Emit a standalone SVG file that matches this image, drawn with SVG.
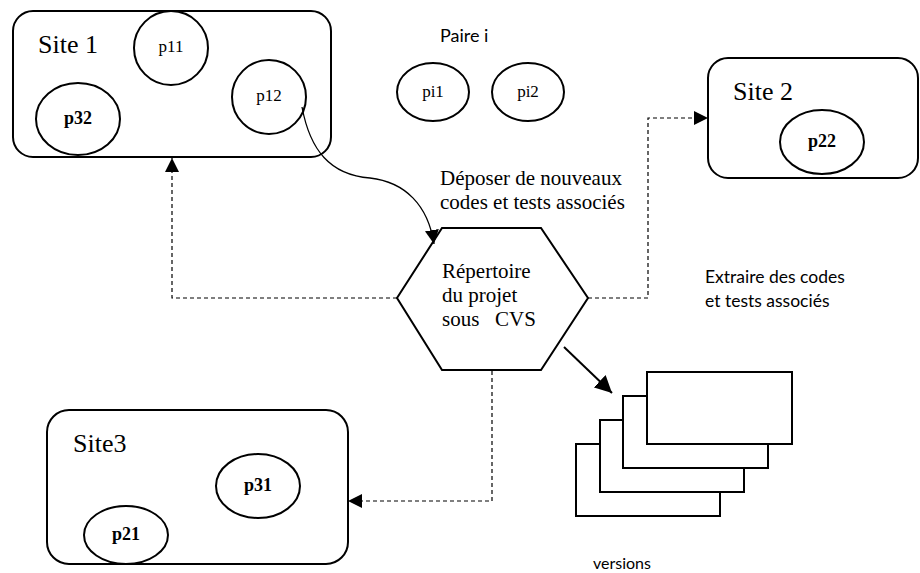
<svg xmlns="http://www.w3.org/2000/svg" width="920" height="573" viewBox="0 0 920 573">
<defs>
<style>
.box{fill:none;stroke:#000;stroke-width:2}
.el{fill:#fff;stroke:#000;stroke-width:2}
.serif{font-family:"Liberation Serif","Times New Roman",serif;fill:#000}
.sans{font-family:"Lato","Open Sans",sans-serif;fill:#000}
.site{font-size:26px}
.p{font-size:17px;text-anchor:middle}
.pb{font-size:18px;font-weight:bold;text-anchor:middle}
.lbl{font-size:21px;white-space:pre}
.dash{fill:none;stroke:#000;stroke-width:1.2;stroke-dasharray:4,3}
.solid{fill:none;stroke:#000;stroke-width:1.3}
.ver{fill:#fff;stroke:#000;stroke-width:2}
</style>
<marker id="ahs" viewBox="0 0 10 10" refX="10" refY="5" markerWidth="14" markerHeight="14" markerUnits="userSpaceOnUse" orient="auto"><path d="M0,0 L10,5 L0,10 z" fill="#000"/></marker>
<marker id="ahb" viewBox="0 0 10 10" refX="10" refY="5" markerWidth="17" markerHeight="17" markerUnits="userSpaceOnUse" orient="auto"><path d="M0,0 L10,5 L0,10 z" fill="#000"/></marker>
</defs>

<g id="site1">
<rect class="box" x="13" y="11" width="318" height="146" rx="20"/>
<text class="serif site" x="38" y="53">Site 1</text>
</g>
<g id="p11"><ellipse class="el" cx="171" cy="48" rx="37" ry="37"/><text class="serif p" x="171" y="52">p11</text></g>
<g id="p12"><ellipse class="el" cx="269" cy="97" rx="37" ry="37"/><text class="serif p" x="269" y="101">p12</text></g>
<g id="p32"><ellipse class="el" cx="78" cy="119" rx="42" ry="36"/><text class="serif pb" x="78" y="124">p32</text></g>

<g id="paire">
<text class="sans" x="440" y="42" font-size="18">Paire i</text>
</g>
<g id="pi1"><ellipse class="el" cx="433" cy="92" rx="36" ry="29"/><text class="serif p" x="433" y="97">pi1</text></g>
<g id="pi2"><ellipse class="el" cx="528" cy="92" rx="36" ry="29"/><text class="serif p" x="528" y="97">pi2</text></g>

<g id="site2">
<rect class="box" x="708" y="58" width="210" height="120" rx="20"/>
<text class="serif site" x="733" y="100">Site 2</text>
</g>
<g id="p22"><ellipse class="el" cx="822" cy="142" rx="42" ry="32"/><text class="serif pb" x="822" y="147">p22</text></g>

<g id="site3">
<rect class="box" x="47" y="410" width="301" height="154" rx="22"/>
<text class="serif site" x="73" y="452">Site3</text>
</g>
<g id="p31"><ellipse class="el" cx="258" cy="486" rx="42" ry="32"/><text class="serif pb" x="258" y="491">p31</text></g>
<g id="p21"><ellipse class="el" cx="126" cy="535" rx="42" ry="29"/><text class="serif pb" x="126" y="540">p21</text></g>

<g id="repertoire">
<polygon class="box" points="442,228 541,228 588,298 541,370 442,370 397,298" fill="#fff"/>
<text class="serif lbl" x="442" y="278">Répertoire</text>
<text class="serif lbl" x="442" y="302">du projet</text>
<text class="serif lbl" x="442" y="326" xml:space="preserve">sous   CVS</text>
</g>

<g id="versions">
<rect class="ver" x="576" y="444" width="144" height="72"/>
<rect class="ver" x="600" y="420" width="144" height="72"/>
<rect class="ver" x="623" y="396" width="145" height="72"/>
<rect class="ver" x="647" y="372" width="145" height="72"/>
<text class="sans" x="593" y="569" font-size="16">versions</text>
</g>

<g id="labels">
<text class="serif lbl" x="440" y="185">Déposer de nouveaux</text>
<text class="serif lbl" x="440" y="209">codes et tests associés</text>
<text class="sans" x="705" y="283" font-size="17.5">Extraire des codes</text>
<text class="sans" x="705" y="307" font-size="17.5">et tests associés</text>
</g>

<g id="connectors">
<path class="solid" d="M302,107 C310,150 330,175 370,178 C405,182 428,205 434,244" marker-end="url(#ahs)"/>
<path class="dash" d="M397,298 H172 V158" marker-end="url(#ahs)"/>
<path class="dash" d="M588,298 H648 V118 H708" marker-end="url(#ahs)"/>
<path class="dash" d="M492,371 V501 H348" marker-end="url(#ahs)"/>
<path fill="none" stroke="#000" stroke-width="2" d="M564,347 L612,393" marker-end="url(#ahb)"/>
</g>
</svg>
